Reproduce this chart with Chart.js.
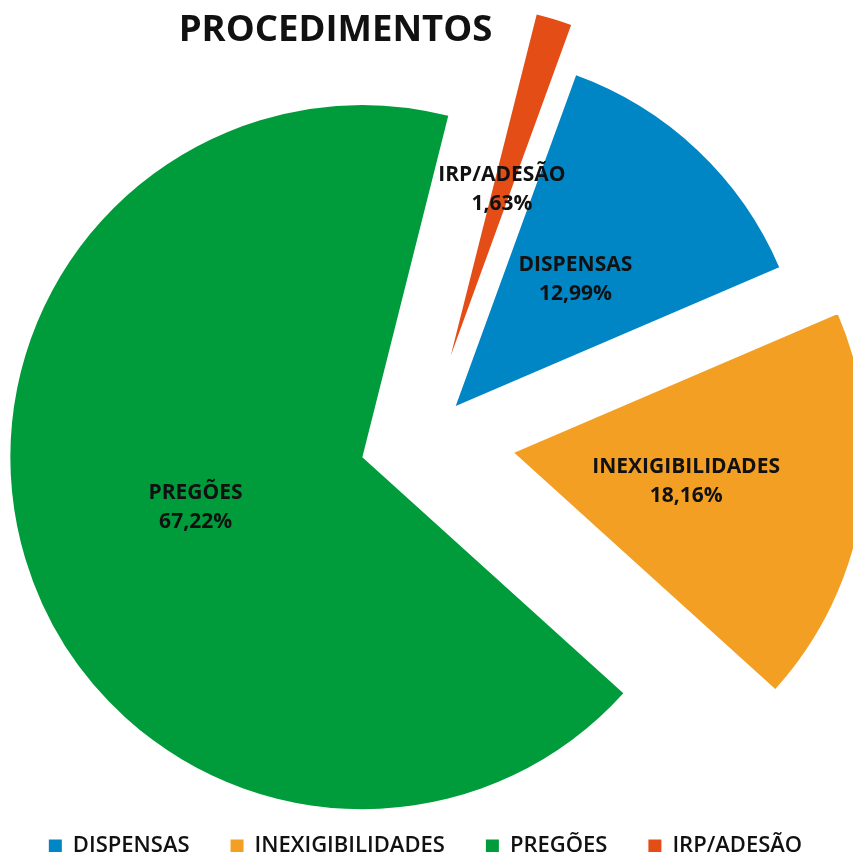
<!DOCTYPE html>
<html>
<head>
<meta charset="utf-8">
<script src="https://cdn.jsdelivr.net/npm/chart.js@4"></script>
<style>
  html, body { margin: 0; padding: 0; background: #fff; }
  #wrap { width: 853px; height: 852px; }
</style>
</head>
<body>
<div id="wrap"><canvas id="myChart" width="853" height="852"></canvas></div>
<script>
var titleText = "PROCEDIMENTOS";
var categories = ["DISPENSAS", "INEXIGIBILIDADES", "PREGÕES", "IRP/ADESÃO"];
var percents = [12.99, 18.16, 67.22, 1.63];
var sliceColors = ["#0085c5", "#f29f24", "#009c3b", "#e44e16"];
// how far each slice is pulled out of the pie, px
var explode = [44, 90, 66, 86];

var FONT = "'Open Sans', sans-serif";

// Chart.js shrinks arcs when using its own offset, so move the slices here instead
var explodedSlices = {
  id: "explodedSlices",
  beforeDatasetDraw: function (chart, args) {
    var ctx = chart.ctx;
    args.meta.data.forEach(function (arc, i) {
      var mid = (arc.startAngle + arc.endAngle) / 2;
      ctx.save();
      ctx.translate(Math.cos(mid) * explode[i], Math.sin(mid) * explode[i]);
      arc.draw(ctx);
      ctx.restore();
    });
    return false;
  },
  afterDraw: function (chart) {
    var ctx = chart.ctx;
    var meta = chart.getDatasetMeta(0);
    ctx.save();
    ctx.fillStyle = "#111";
    ctx.textAlign = "center";
    ctx.textBaseline = "middle";
    ctx.font = "bold 21px " + FONT;
    meta.data.forEach(function (arc, i) {
      var mid = (arc.startAngle + arc.endAngle) / 2;
      var dist = explode[i] + arc.outerRadius * 0.495;
      var x = arc.x + Math.cos(mid) * dist;
      var y = arc.y + Math.sin(mid) * dist;
      ctx.fillText(categories[i], x, y - 14.5);
      ctx.fillText(percents[i].toFixed(2).replace(".", ",") + "%", x, y + 14.5);
    });
    ctx.font = "bold 36.5px " + FONT;
    ctx.textBaseline = "alphabetic";
    ctx.fillText(titleText, 335.5, 40.5);
    ctx.restore();
  }
};

new Chart("myChart", {
  type: "pie",
  data: {
    labels: categories,
    datasets: [{
      data: percents,
      backgroundColor: sliceColors,
      borderWidth: 0
    }]
  },
  options: {
    responsive: false,
    animation: false,
    rotation: 20,
    radius: 352,
    layout: { padding: { left: 0, right: 2, top: 82, bottom: -15 } },
    plugins: {
      tooltip: { enabled: false },
      title: { display: false },
      legend: {
        position: "bottom",
        labels: {
          boxWidth: 13,
          boxHeight: 13,
          padding: 41,
          color: "#111",
          font: { family: FONT, size: 22, weight: "600" }
        }
      }
    }
  },
  plugins: [explodedSlices]
});
</script>
</body>
</html>
